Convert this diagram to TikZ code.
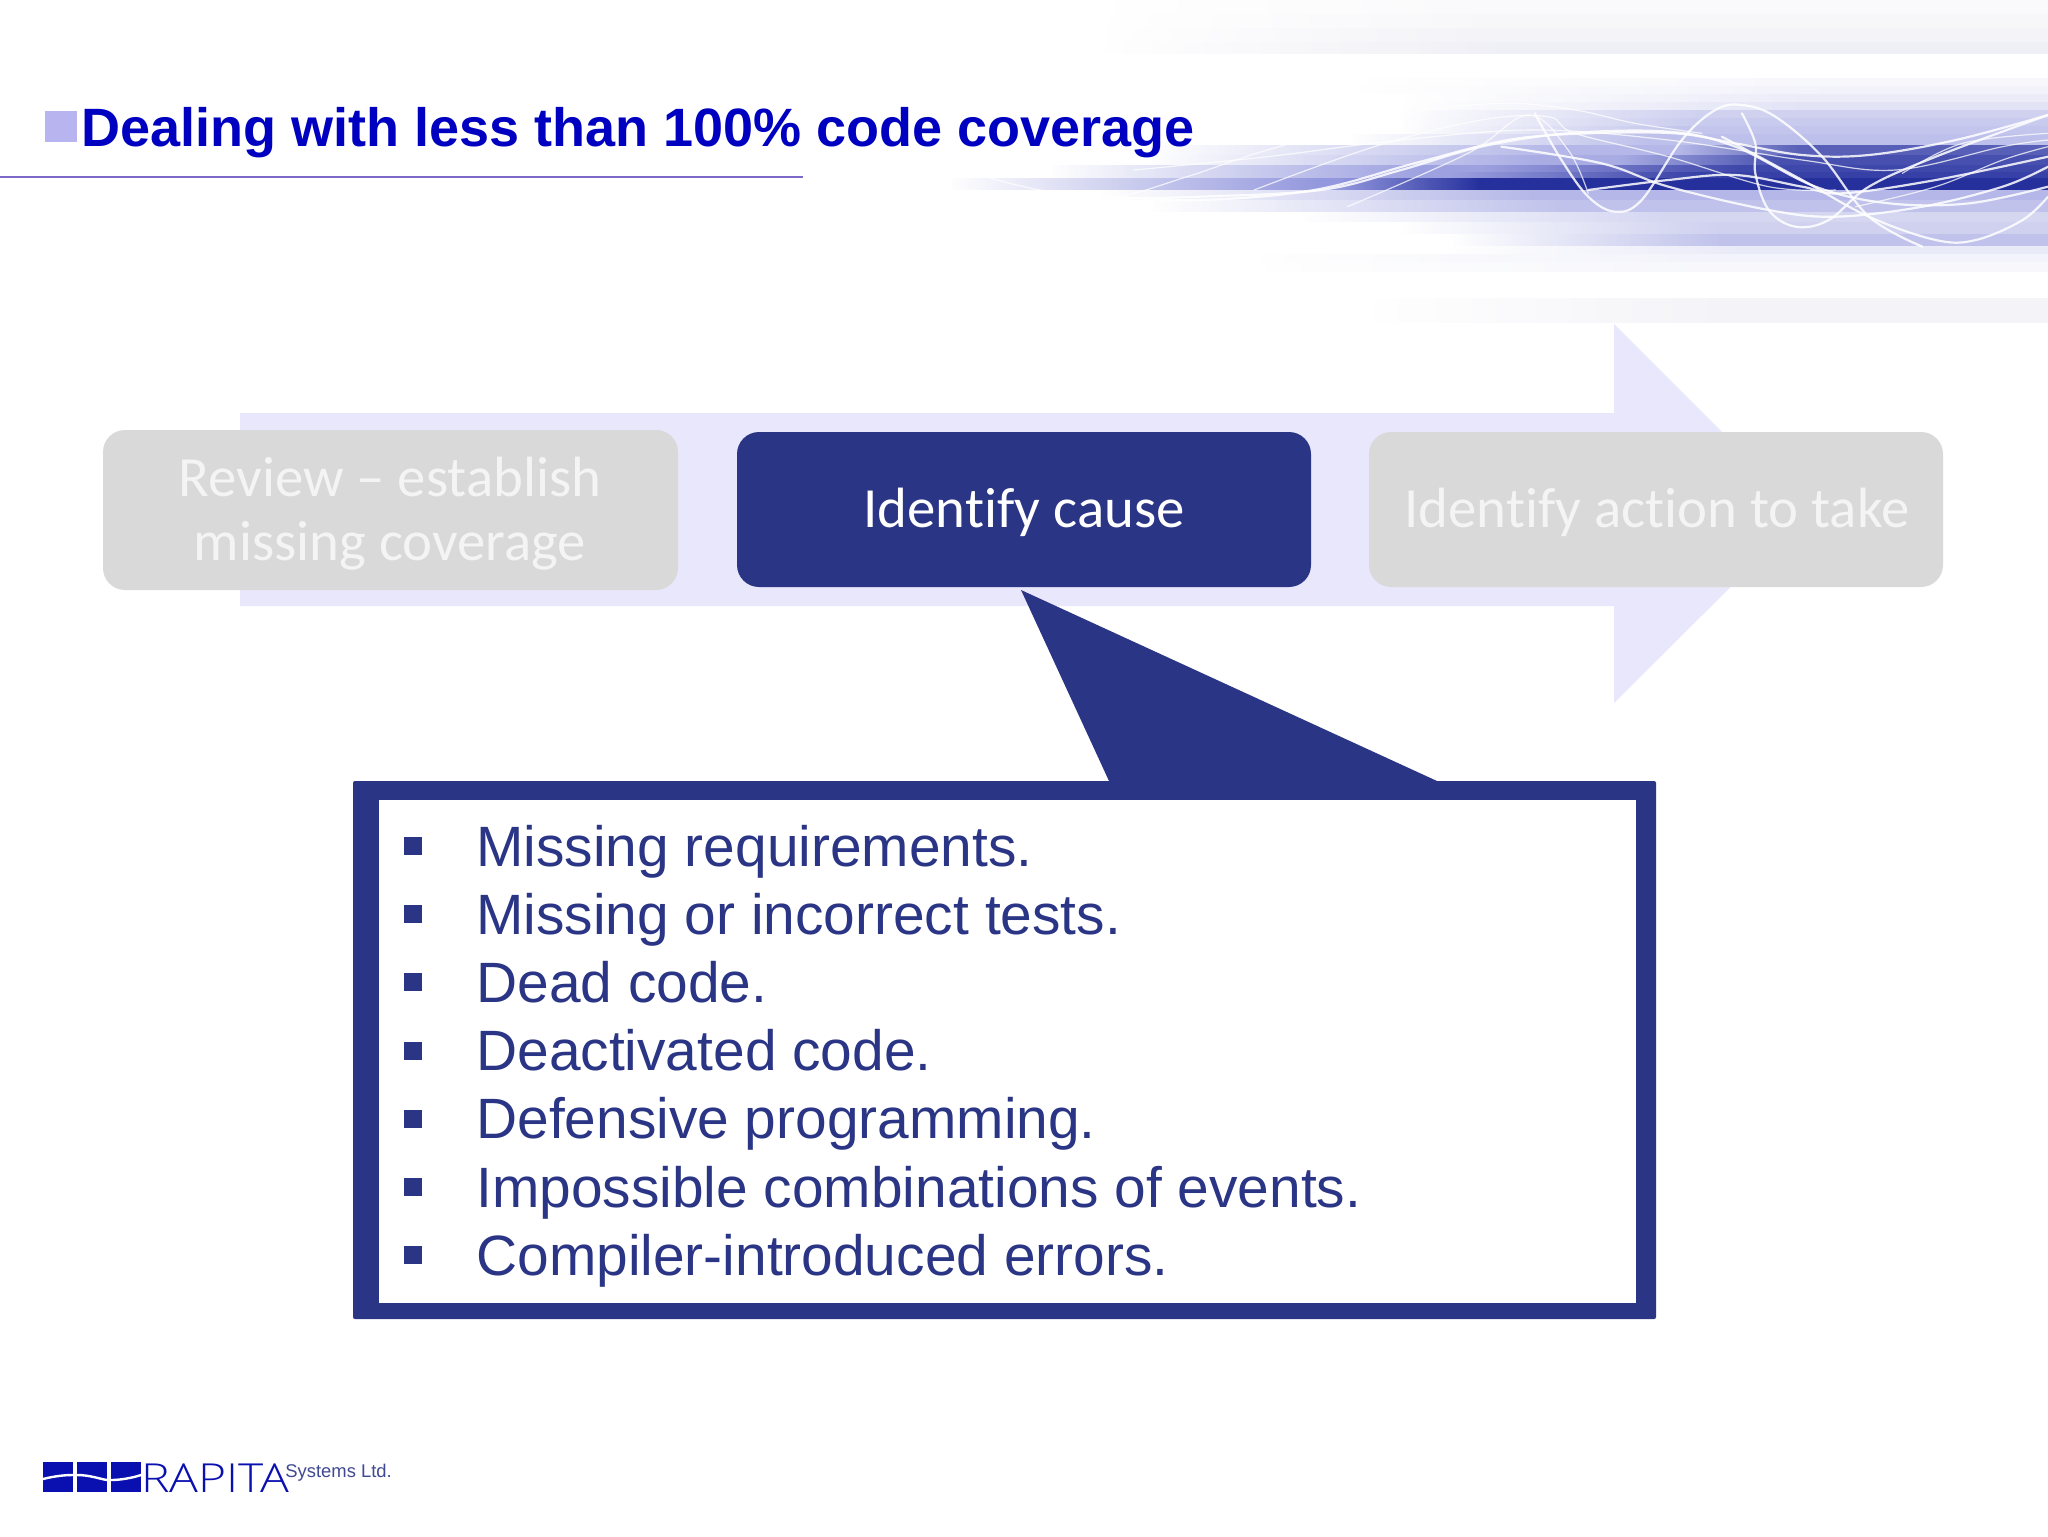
\documentclass[tikz,border=0pt]{standalone}
\usepackage{fontspec}
\setmainfont{Liberation Sans}
\newfontfamily\calfont[Ligatures=NoCommon]{Carlito}
\newfontfamily\thinfont{Open Sans Light}
\usetikzlibrary{fadings}
\definecolor{navy}{HTML}{2B3585}
\definecolor{titleblue}{HTML}{0000C0}
\definecolor{arrowfill}{HTML}{E9E7FB}
\definecolor{greybox}{HTML}{D9D9D9}
\definecolor{greytext}{HTML}{F4F4F4}
\definecolor{lav}{HTML}{6A70D0}
\definecolor{deep}{HTML}{1A2596}
\definecolor{mist}{HTML}{A0A0C8}
\definecolor{sq}{HTML}{B8B4F0}
\definecolor{rule}{HTML}{7B68C8}
\definecolor{logoblue}{HTML}{0A0FB0}
\tikzfading[name=rampfade, left color=transparent!100, right color=transparent!0]
\tikzset{
  boxlabel/.style={inner sep=0pt,anchor=base,text=greytext,font=\calfont\fontsize{28.4}{34}\selectfont},
  listline/.style={inner sep=0pt,anchor=base west,text=navy,font=\fontsize{28.43}{34}\selectfont},
  bulletmark/.style={fill=navy,draw=none,minimum size=9pt,inner sep=0pt},
  wave/.style={white,line width=1.1pt,opacity=0.85,smooth,tension=0.6,line cap=round},
  wavethin/.style={white,line width=0.6pt,opacity=0.75,smooth,tension=0.6,line cap=round}
}
\begin{document}
\begin{tikzpicture}[x=0.5pt,y=-0.5pt]
\useasboundingbox (0,0) rectangle (2048,1536);
\fill[white] (0,0) rectangle (2048,1536);
% header bands: y1/y2/xs/xm/colour/opacity
\foreach \ya/\yb/\xs/\xm/\cc/\op in {
  0/14/1100/1500/mist/0.05, 14/28/1100/1500/mist/0.08, 28/42/1100/1500/mist/0.12, 42/54/1100/1500/mist/0.16,
  78/86/1350/1850/lav/0.05, 86/94/1350/1850/lav/0.09, 94/102/1400/1800/lav/0.13, 102/110/1400/1800/lav/0.19,
  110/118/1400/1700/lav/0.32, 118/126/1400/1700/lav/0.36, 126/134/1400/1680/lav/0.40, 134/145/1350/1650/lav/0.44,
  145/155/1150/1560/lav/0.50, 155/165/1150/1540/lav/0.58, 165/178/1050/1420/lav/0.65, 178/190/950/1320/lav/0.72,
  145/155/1680/1800/deep/0.6, 155/165/1620/1780/deep/0.68, 165/172/1480/1740/deep/0.72, 172/178/1450/1700/deep/0.78, 178/190/1340/1480/deep/0.9,
  190/200/1100/1540/lav/0.5, 200/212/1150/1560/lav/0.42, 212/222/1300/1660/lav/0.28,
  222/234/1400/1720/lav/0.32, 234/246/1450/1720/lav/0.42, 246/254/1450/1740/lav/0.14,
  254/262/1250/1700/lav/0.08, 262/272/1250/1700/lav/0.05, 298/323/1367/1750/mist/0.12}{
  \fill[\cc,opacity=\op,path fading=rampfade] (\xs,\ya) rectangle (\xm,\yb);
  \fill[\cc,opacity=\op] (\xm,\ya) rectangle (2048,\yb);
}
% white waves: coordinates read from a crop at x=1000 (x scale 1.496, y scale 3)
\begin{scope}[shift={(1000,0)},x=0.3342pt,y=-0.16667pt]
 \draw[wave] plot coordinates {(-40,570)(0,590)(150,590)(300,600)(470,570)(620,490)(760,420)(880,400)(1010,400)(1100,430)(1200,465)(1300,465)(1430,420)(1568,345)};
 \draw[wavethin] plot coordinates {(-40,520)(60,570)(170,590)(280,530)(400,450)(600,345)(750,310)(860,330)(950,370)(1050,400)};
 \draw[wave] plot coordinates {(800,340)(840,480)(880,590)(920,635)(960,600)(1020,420)(1070,330)(1110,315)(1160,350)(1230,470)(1300,650)(1380,740)};
 \draw[wave] plot coordinates {(1110,340)(1130,430)(1130,520)(1150,630)(1190,680)(1240,660)(1300,560)(1400,470)(1568,345)};
 \draw[wave] plot coordinates {(750,440)(900,490)(1000,560)(1150,630)(1250,650)(1380,620)(1500,560)(1568,500)};
 \draw[wave] plot coordinates {(1080,410)(1200,540)(1300,650)(1400,720)(1460,720)(1530,660)(1568,590)};
 \draw[wave] plot coordinates {(880,570)(1000,540)(1100,525)(1200,560)(1260,580)(1400,540)(1568,470)};
 \draw[wavethin] plot coordinates {(520,620)(700,460)(790,345)(850,450)(880,580)};
 \draw[wavethin] plot coordinates {(380,570)(560,440)(720,360)(820,350)(860,400)(1000,470)(1150,560)(1250,570)};
 \draw[wave] plot coordinates {(100,600)(300,590)(480,570)(600,510)(720,440)(850,400)(1000,395)(1100,440)(1220,560)(1330,610)(1450,610)(1568,560)};
 \draw[wavethin] plot coordinates {(200,510)(400,470)(600,420)(800,390)(1000,420)(1200,480)(1340,510)(1500,440)(1568,420)};
 \draw[wavethin] plot coordinates {(1350,520)(1440,430)(1568,400)};
 \draw[wavethin] plot coordinates {(1280,620)(1400,560)(1500,480)(1568,440)};
\end{scope}
% title
\fill[sq] (45,111) rectangle (77,142);
\node[inner sep=0pt,anchor=base west,text=titleblue,font=\bfseries\fontsize{27}{32}\selectfont] (title) at (81,146) {Dealing with less than 100\% code coverage};
\draw[draw=rule,line width=0.6pt] (0,177) -- (803,177);
% process arrow
\fill[arrowfill] (240,413) -- (1614,413) -- (1614,324) -- (1804,514) -- (1614,703) -- (1614,606) -- (240,606) -- cycle;
% step boxes
\fill[greybox,rounded corners=11pt] (103,430) rectangle (678,590);
\fill[navy,rounded corners=11pt] (737,432) rectangle (1311,587);
\fill[greybox,rounded corners=11pt] (1369,432) rectangle (1943,587);
\node[boxlabel] (reviewa) at (390,496) {Review – establish};
\node[boxlabel] (reviewb) at (390,560) {missing coverage};
\node[boxlabel,text=white] (cause) at (1024,527) {Identify cause};
\node[boxlabel] (action) at (1657,527) {Identify action to take};
% callout
\fill[navy] (1021,590) -- (1437,781) -- (1109,781) -- cycle;
\fill[navy,rounded corners=1pt] (353,781) rectangle (1656,1319);
\fill[white] (379,800) rectangle (1636,1303);
\foreach \i/\t in {0/Missing requirements.,1/Missing or incorrect tests.,2/Dead code.,3/Deactivated code.,4/Defensive programming.,5/Impossible combinations of events.,6/Compiler-introduced errors.}{
  \node[bulletmark] (bul\i) at (413,{846+68.2*\i}) {};
  \node[listline] (line\i) at (476,{866+68.2*\i}) {\t};
}
% logo
\fill[logoblue] (43,1462) rectangle (73,1492);
\fill[logoblue] (77,1462) rectangle (107,1492);
\fill[logoblue] (111,1462) rectangle (141,1492);
\draw[white,line width=1.2pt] (43,1479) .. controls (55,1476) and (65,1475) .. (73,1475);
\draw[white,line width=1.2pt] (77,1475) .. controls (90,1475) and (100,1479) .. (107,1480);
\draw[white,line width=1.2pt] (111,1480) .. controls (120,1480) and (132,1478) .. (141,1475);
\node[inner sep=0pt,anchor=base west,text=logoblue,xscale=1.2,font=\thinfont\fontsize{20}{24}\selectfont] (rapita) at (141,1492) {RAPITA};
\node[inner sep=0pt,anchor=base west,text=navy!90!white,font=\fontsize{9.2}{11}\selectfont] (systems) at (285,1477) {Systems Ltd.};
\end{tikzpicture}
\end{document}
